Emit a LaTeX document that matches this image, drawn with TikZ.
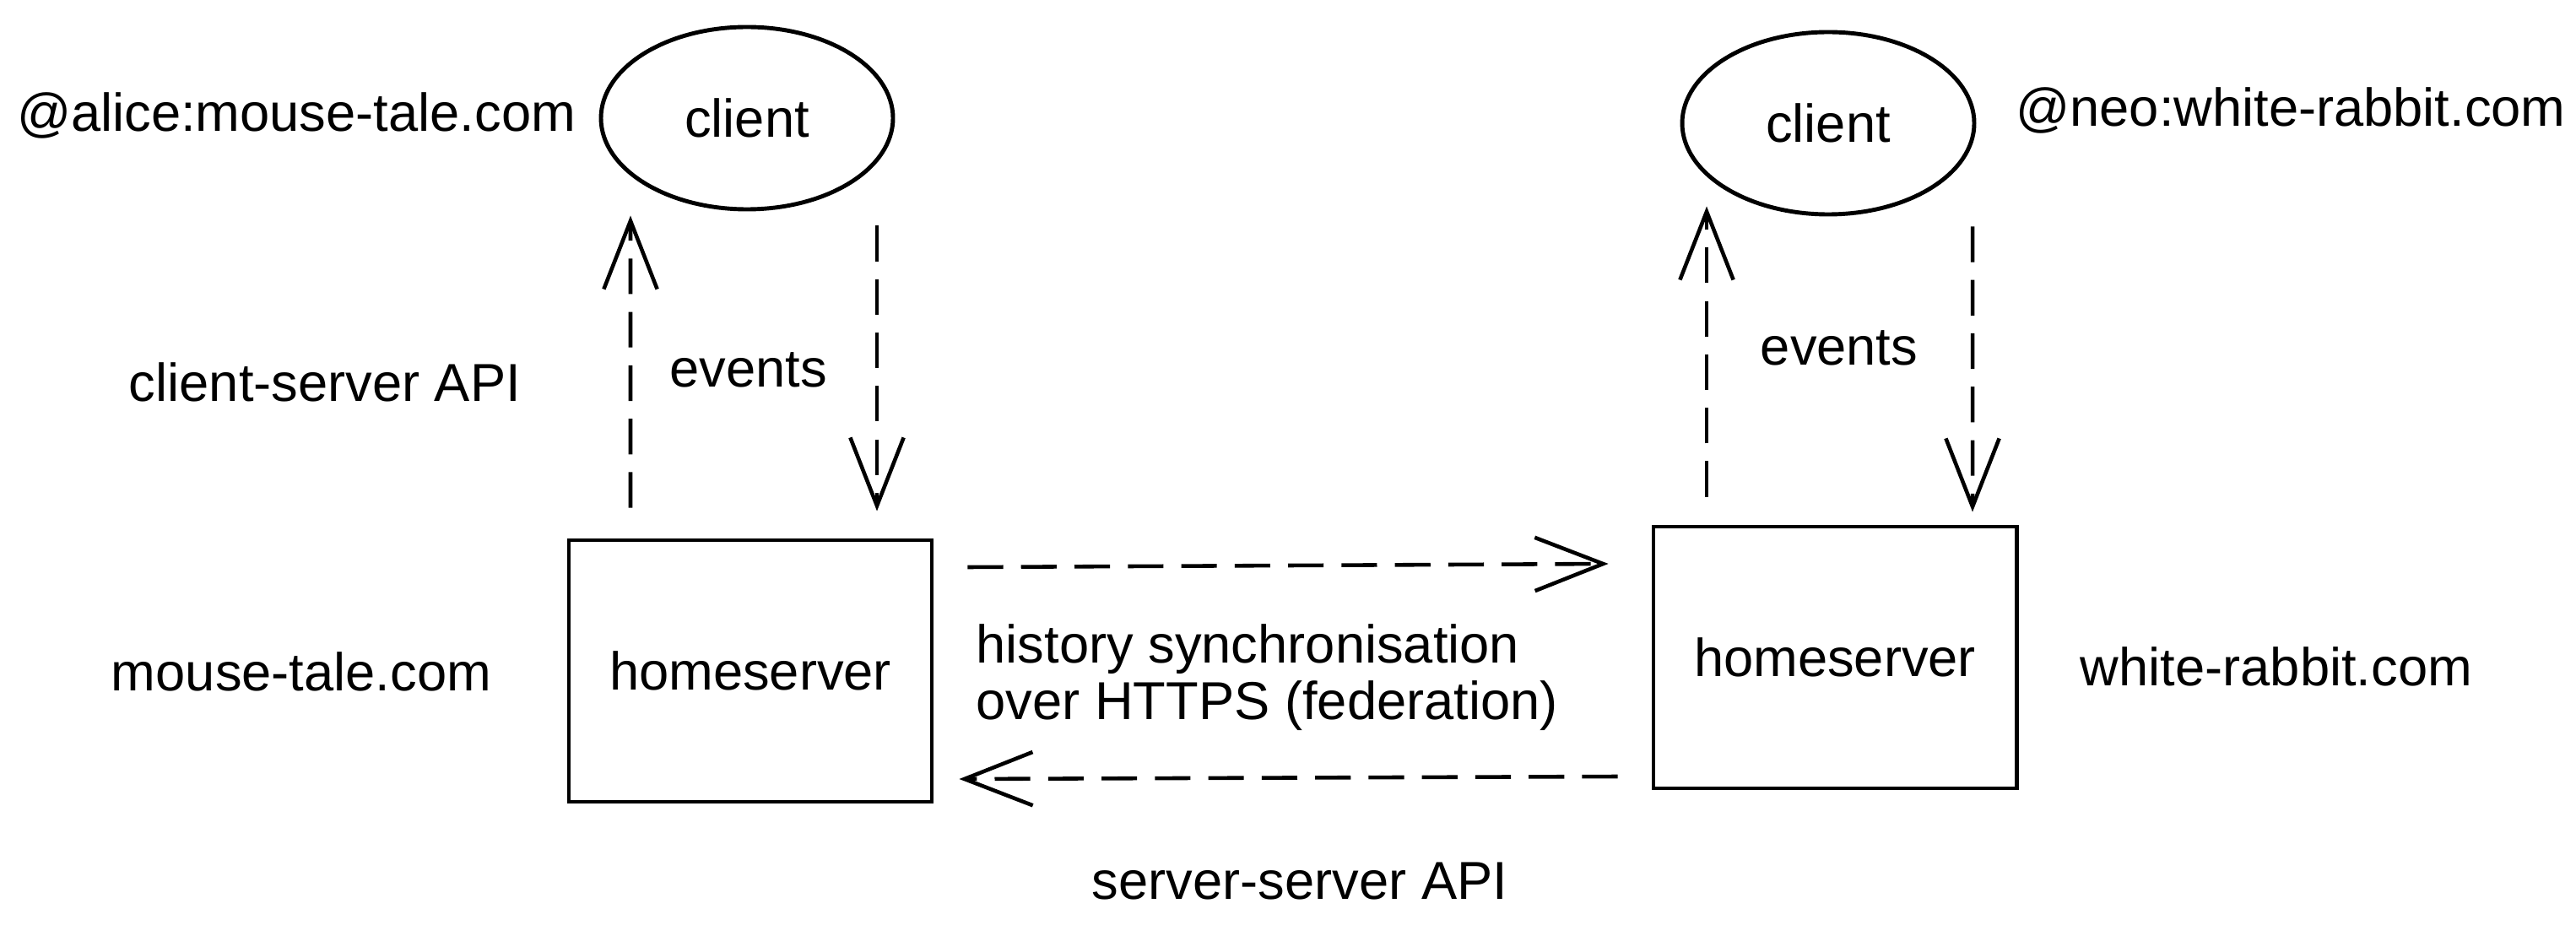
\documentclass[tikz,border=0pt]{standalone}
\usepackage{fontspec}
\setmainfont{Liberation Sans}
\usetikzlibrary{shapes.geometric,arrows.meta}

\begin{document}
\begin{tikzpicture}[
        font=\fontsize{18}{20}\selectfont,
        client/.style={draw, ellipse, line width=1.4pt, minimum width=3.46cm, minimum height=2.16cm},
        server/.style={draw, rectangle, line width=1.4pt, minimum width=4.3cm, minimum height=3.1cm},
        flow/.style={line width=1.3pt, dash pattern=on 12pt off 6pt, -{Straight Barb[length=23pt,width=18pt]}},
        lbl/.style={inner sep=0pt}
    ]
    \useasboundingbox (0,0) rectangle (30.52,11.08);
    % left side: mouse-tale.com
    \node[client] (lclient) at (8.85,9.68) {client};
    \node[server] (lbox) at (8.89,3.13) {homeserver};
    \node[lbl, anchor=base] (alice) at (3.51,9.52) {@alice:mouse-tale.com};
    \node[lbl, anchor=base] (csapi) at (3.85,6.32) {client-server API};
    \node[lbl, anchor=base] (levents) at (8.87,6.49) {events};
    \node[lbl, anchor=base] (ldomain) at (3.57,2.90) {mouse-tale.com};
    \draw[flow] ([xshift=-1.42cm,yshift=.36cm]lbox.north) -- ([xshift=-1.38cm,yshift=-.05cm]lclient.south);
    \draw[flow] ([xshift=1.54cm,yshift=-.17cm]lclient.south) -- ([xshift=1.50cm,yshift=.32cm]lbox.north);
    % right side: white-rabbit.com
    \node[client] (rclient) at (21.66,9.62) {client};
    \node[server] (rbox) at (21.74,3.29) {homeserver};
    \node[lbl, anchor=base] (neo) at (27.14,9.58) {@neo:white-rabbit.com};
    \node[lbl, anchor=base] (revents) at (21.79,6.75) {events};
    \node[lbl, anchor=base] (rdomain) at (26.97,2.96) {white-rabbit.com};
    \draw[flow] ([xshift=-1.52cm,yshift=.33cm]rbox.north) -- ([xshift=-1.44cm,yshift=.12cm]rclient.south);
    \draw[flow] ([xshift=1.71cm,yshift=-.12cm]rclient.south) -- ([xshift=1.63cm,yshift=.15cm]rbox.north);
    % federation
    \draw[flow] ([xshift=.40cm,yshift=1.23cm]lbox.east) -- ([xshift=-.51cm,yshift=1.11cm]rbox.west);
    \draw[flow] ([xshift=-.40cm,yshift=-1.41cm]rbox.west) -- ([xshift=.30cm,yshift=-1.28cm]lbox.east);
    \node[lbl, anchor=base west] (sync) at (11.56,3.23) {history synchronisation};
    \node[lbl, anchor=base west] (https) at (11.56,2.56) {over HTTPS (federation)};
    \node[lbl, anchor=base] (ssapi) at (15.40,0.43) {server-server API};
\end{tikzpicture}
\end{document}
